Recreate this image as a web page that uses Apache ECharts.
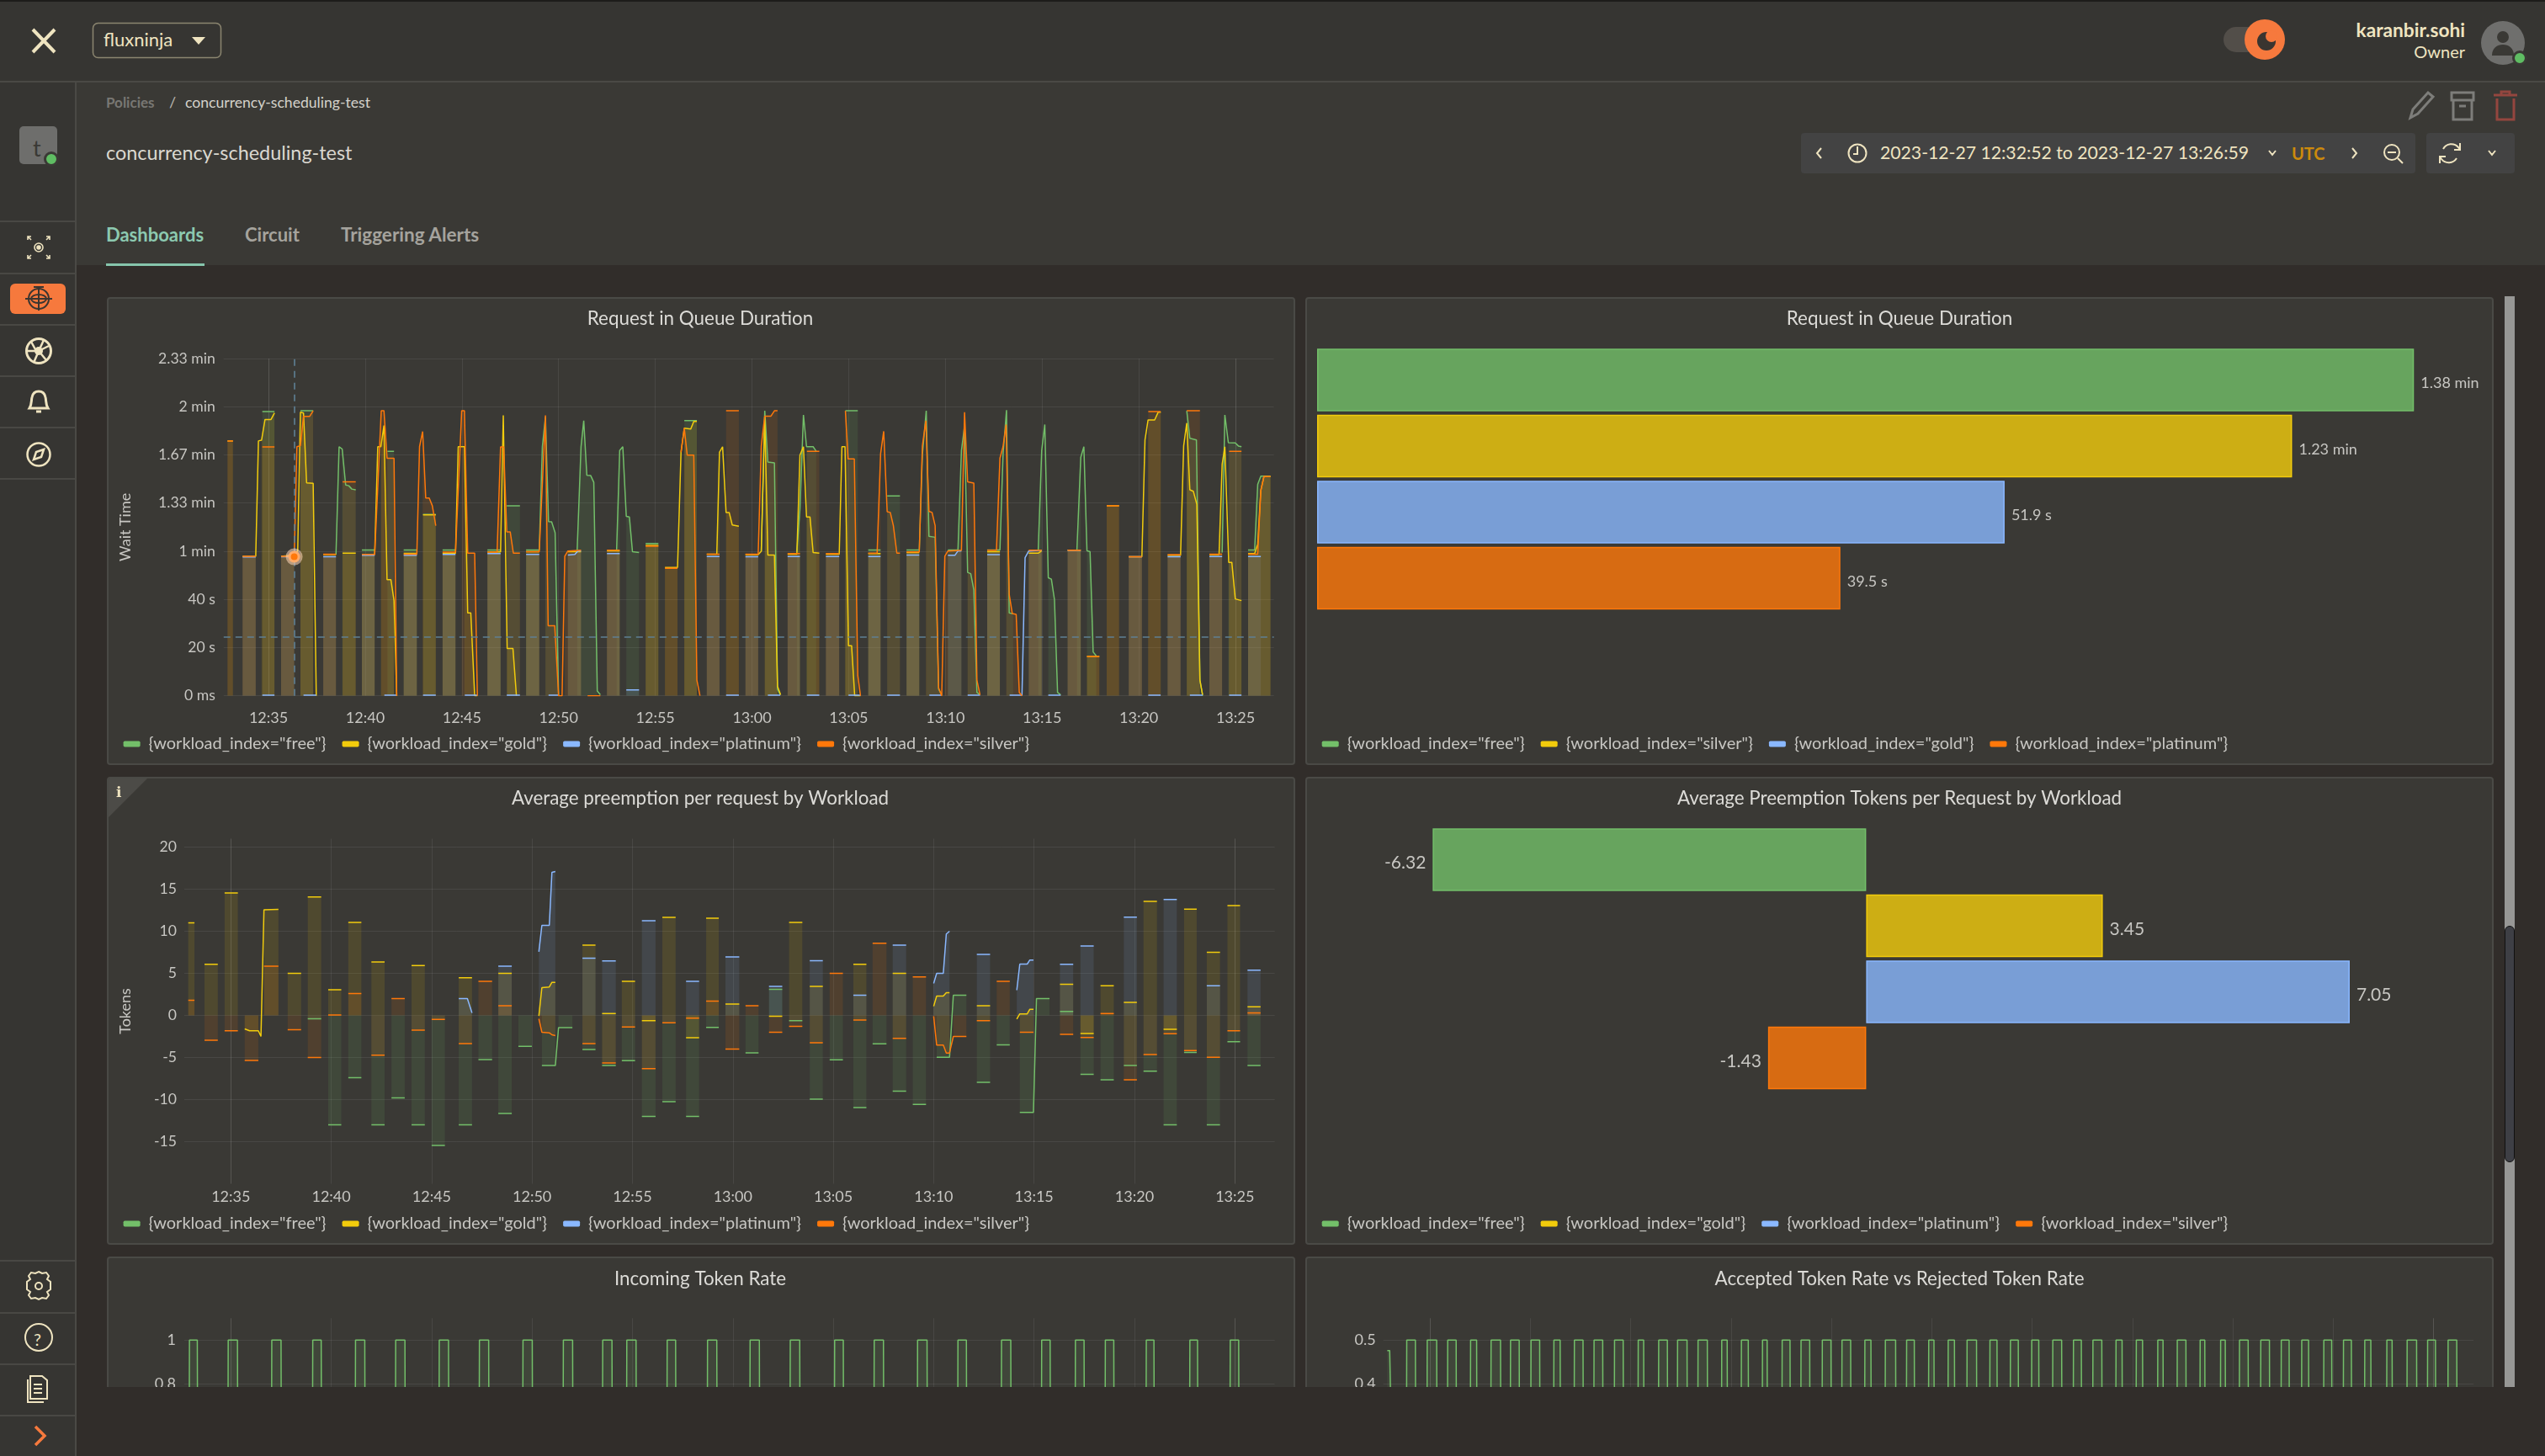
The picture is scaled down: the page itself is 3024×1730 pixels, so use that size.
<!DOCTYPE html>
<html><head><meta charset="utf-8">
<script src="https://cdn.jsdelivr.net/npm/echarts@6/dist/echarts.min.js"></script>
<style>
html,body{margin:0;padding:0;width:3024px;height:1730px;overflow:hidden;background:#312d2a;font-family:Lato,"Open Sans",sans-serif}
.a{position:absolute}
.t{position:absolute;white-space:nowrap;line-height:1}
.panel{position:absolute;background:#3a3935;border:2px solid #4a4a46;border-radius:4px;box-sizing:border-box;overflow:hidden}
.chart{position:absolute;left:-2px;top:-2px}
svg{position:absolute;overflow:visible}
.ln{position:absolute;left:0;width:89px;height:2px;background:#494844}
</style></head><body>
<div class="a" style="left:0;top:0;width:3024px;height:98px;background:#363532"></div>
<div class="a" style="left:0;top:0;width:3024px;height:2px;background:#1d1c1a"></div>
<div class="a" style="left:0;top:96px;width:3024px;height:2px;background:#4a4945"></div>
<div class="a" style="left:91px;top:98px;width:2933px;height:217px;background:#3a3935"></div>

<div class="panel" style="left:127px;top:353px;width:1412px;height:556px"><div class="chart" id="c1" style="width:1412px;height:556px"></div></div>
<div class="panel" style="left:1551px;top:353px;width:1412px;height:556px"><div class="chart" id="c2" style="width:1412px;height:556px"></div></div>
<div class="panel" style="left:127px;top:923px;width:1412px;height:556px"><div class="chart" id="c3" style="width:1412px;height:556px"></div>
  <div class="a" style="left:-2px;top:-2px;width:0;height:0;border-top:50px solid #4c4b47;border-right:50px solid transparent"></div>
  <div class="t" style="left:9px;top:6px;font:700 17px 'DejaVu Serif',serif;color:#efe4c0">i</div></div>
<div class="panel" style="left:1551px;top:923px;width:1412px;height:556px"><div class="chart" id="c4" style="width:1412px;height:556px"></div></div>
<div class="panel" style="left:127px;top:1493px;width:1412px;height:420px"><div class="chart" id="c5" style="width:1412px;height:420px"></div></div>
<div class="panel" style="left:1551px;top:1493px;width:1412px;height:420px"><div class="chart" id="c6" style="width:1412px;height:420px"></div></div>

<div class="a" style="left:91px;top:1648px;width:2933px;height:82px;background:#312d2a"></div>
<div class="a" style="left:2976px;top:352px;width:12px;height:1296px;background:#979795"></div>
<div class="a" style="left:2976px;top:1100px;width:12px;height:281px;background:#3e3f45;border:1px solid #111;box-sizing:border-box;border-radius:6px"></div>

<!-- sidebar -->
<div class="a" style="left:0;top:98px;width:89px;height:1632px;background:#363532"></div>
<div class="a" style="left:89px;top:98px;width:2px;height:1632px;background:#4a4945"></div>
<div class="ln" style="top:262px"></div><div class="ln" style="top:324px"></div><div class="ln" style="top:385px"></div><div class="ln" style="top:446px"></div><div class="ln" style="top:507px"></div><div class="ln" style="top:568px"></div>
<div class="ln" style="top:1497px"></div><div class="ln" style="top:1559px"></div><div class="ln" style="top:1620px"></div><div class="ln" style="top:1681px"></div>
<div class="a" style="left:23px;top:150px;width:45px;height:45px;background:#6e6e6c;border-radius:5px"></div>
<div class="t" style="left:39px;top:162px;font-size:27px;color:#3a3935">t</div>
<div class="a" style="left:52px;top:180px;width:12px;height:12px;background:#5fbd63;border:3px solid #3a3935;border-radius:50%"></div>
<svg style="left:0;top:0" width="91" height="1730" fill="none" stroke="#efe4c0" stroke-width="2.5">
 <g stroke-width="1.6"><circle cx="46" cy="294" r="5"/><circle cx="46" cy="294" r="2" fill="#efe4c0"/><path d="M37 285l-4-4M33 285v-4h4M55 285l4-4M59 285v-4h-4M37 303l-4 4M33 303v4h4M55 303l4 4M59 303v4h-4"/></g>
 <rect x="12" y="337" width="66" height="36" rx="6" fill="#f6793d" stroke="none"/>
 <g stroke="#3a3530" stroke-width="2"><circle cx="46" cy="355" r="12"/><ellipse cx="46" cy="355" rx="9" ry="5"/><path d="M30 355h32M46 341v28M40 341h12"/></g>
 <circle cx="46" cy="417" r="14.5" stroke-width="3"/><circle cx="46" cy="417" r="5" fill="#efe4c0" stroke="none"/><path d="M37 406l6 11M58 411l-12 6M55 428l-9-11M40 431l6-14M32 417h14M52 404l-6 13"/>
 <path d="M35 485c3-5 2-9 3-13 1-5 4-7 8-7s7 2 8 7c1 4 0 8 3 13zM43 489h6" stroke-width="3"/>
 <circle cx="46" cy="540" r="13.5"/><path d="M52 534l-3 9-9 3 3-9z"/>
 <path d="M46 1511l4 2 5-1 3 4-2 4 4 3v9l-4 3 2 4-3 4-5-1-4 2-4-2-5 1-3-4 2-4-4-3v-9l4-3-2-4 3-4 5 1z" stroke-width="2"/><circle cx="46" cy="1528" r="4" stroke-width="2"/>
 <circle cx="46" cy="1589" r="16" stroke-width="2"/>
 <path d="M36 1635h14l6 5v22H36zM33 1639v27h19M40 1645h10M40 1650h10M40 1655h10" stroke-width="2"/>
 <path d="M42 1695l11 11-11 11" stroke="#f6793d" stroke-width="3.5"/>
</svg>
<div class="t" style="left:40px;top:1581px;font-size:20px;color:#efe4c0">?</div>

<!-- top bar -->
<svg style="left:0;top:0" width="300" height="98" fill="none" stroke="#efe4c0" stroke-width="4"><path d="M39 35l26 27M65 35L39 62"/><path d="M228 44h16l-8 9z" fill="#efe4c0" stroke="none"/><rect x="110.5" y="27.5" width="152" height="41" rx="6" stroke="#8c8670" stroke-width="1.5"/></svg>
<div class="t" style="left:123px;top:36px;font-size:22px;color:#efe4c0">fluxninja</div>
<div class="a" style="left:2642px;top:32px;width:44px;height:30px;background:#524e49;border-radius:15px"></div>
<div class="a" style="left:2667px;top:23px;width:48px;height:48px;background:#f6793d;border-radius:50%"></div>
<svg style="left:2667px;top:23px" width="48" height="48"><circle cx="26" cy="26" r="11" fill="#3a3530"/><circle cx="32" cy="20" r="7" fill="#f6793d"/></svg>
<div class="t" style="right:95px;top:25px;font-size:22.7px;font-weight:700;color:#efe4c0">karanbir.sohi</div>
<div class="t" style="right:95px;top:51px;font-size:20px;color:#efe4c0">Owner</div>
<div class="a" style="left:2948px;top:25px;width:52px;height:52px;background:#6f6f6d;border-radius:50%"></div>
<svg style="left:2948px;top:25px" width="52" height="52" fill="#3a3935"><circle cx="26" cy="19" r="7"/><path d="M13 41c0-9 6-13 13-13s13 4 13 13z"/></svg>
<div class="a" style="left:2985px;top:60px;width:12px;height:12px;background:#5fbd63;border:3px solid #3a3935;border-radius:50%"></div>

<!-- page head -->
<div class="t" style="left:126px;top:113px;font-size:17px;font-weight:700;color:#787773">Policies</div>
<div class="t" style="left:201px;top:112px;font-size:18px;color:#b9b7b0">/</div>
<div class="t" style="left:220px;top:113px;font-size:17.6px;color:#d4d2ca">concurrency-scheduling-test</div>
<div class="t" style="left:126px;top:170px;font-size:23.4px;color:#dad8d0">concurrency-scheduling-test</div>
<div class="t" style="left:126px;top:268px;font-size:22px;font-weight:700;color:#8cc9b0">Dashboards</div>
<div class="t" style="left:291px;top:268px;font-size:22px;font-weight:700;color:#a5a39d">Circuit</div>
<div class="t" style="left:405px;top:268px;font-size:22.5px;font-weight:700;color:#a5a39d">Triggering Alerts</div>
<div class="a" style="left:126px;top:313px;width:117px;height:3px;background:#86c5ac"></div>
<svg style="left:2860px;top:105px" width="130" height="40" fill="none" stroke-width="3">
 <path d="M4 35l3-10 18-20 6 5-18 20z" stroke="#7d7d7a"/>
 <path d="M53 5h26v9H53zM55 14v23h22V14M62 21h8" stroke="#7d7d7a"/>
 <path d="M103 8h28M112 8V4h10v4M107 12v25h20V12" stroke="#94463f"/>
</svg>
<div class="a" style="left:2140px;top:158px;width:730px;height:48px;background:#434343;border-radius:4px"></div>
<div class="a" style="left:2883px;top:158px;width:105px;height:48px;background:#434343;border-radius:4px"></div>
<svg style="left:2140px;top:158px" width="850" height="48" fill="none" stroke="#efe4c0" stroke-width="2">
 <path d="M24 18l-5 6 5 6M655 18l5 6-5 6"/><circle cx="67" cy="24" r="10.5"/><path d="M67 16v9h-5"/>
 <path d="M556 21l4 5 4-5M817 21l4 5 4-5" stroke-width="2"/>
 <circle cx="702" cy="23" r="9"/><path d="M697 23h10M709 30l6 6"/>
 <path d="M763 19a11 11 0 0 1 18-2l2 3M779 30a11 11 0 0 1-18 1l-2-3M783 12v8h-7M759 36v-8h7"/>
</svg>
<div class="t" style="left:2234px;top:171px;font-size:21.2px;color:#efe4c0">2023-12-27 12:32:52 to 2023-12-27 13:26:59</div>
<div class="t" style="left:2723px;top:172px;font-size:20px;font-weight:700;color:#cc8a0c">UTC</div>

<script>
/* ---------- data: [minute after 12:30 UTC, value] ---------- */
const workloads = ['free','gold','platinum','silver'];
const legendNames = w => `{workload_index="${w}"}`;
const colorFree='#73bf69', colorGold='#f2cc0c', colorPlatinum='#8ab8ff', colorSilver='#ff780a';
const timeTickMinutes = [5,10,15,20,25,30,35,40,45,50,55];

const queueTickLabels = ['0 ms','20 s','40 s','1 min','1.33 min','1.67 min','2 min','2.33 min'];
const queueWindows = [[2.88,3.16],[3.66,4.34],[4.68,5.31],[5.65,6.33],[6.65,7.31],[7.83,8.49],[8.83,9.51],[9.83,10.49],[10.83,11.49],[11.99,12.67],[12.99,13.65],[14.0,14.67],[14.99,15.66],[16.32,17.0],[17.32,18.0],[18.32,19.0],[19.32,20.0],[20.32,22.0],[22.5,23.16],[23.5,24.16],[24.5,25.16],[25.5,26.15],[26.5,27.15],[27.64,28.32],[28.66,29.32],[29.66,30.32],[30.64,31.36],[31.84,32.48],[32.84,33.48],[33.82,34.51],[34.83,35.47],[36.01,36.65],[36.99,37.65],[37.99,38.65],[38.99,39.81],[40.01,40.83],[41.15,41.79],[42.16,42.82],[43.16,43.96],[44.31,44.98],[45.32,45.96],[46.32,47.0],[47.32,47.96],[48.34,48.98],[49.48,50.16],[50.49,51.13],[51.49,52.16],[52.48,53.16],[53.65,54.31],[54.67,55.31],[55.65,56.81]];
const queueFree = [[4.68,5.31,118],[6.65,7.31,118.3],
 [[8.49,58.6],[8.65,103.4],[8.81,102.4],[8.99,87.5],[9.15,87.2],[9.31,85.8],[9.51,85.5]],
 [9.83,10.49,60.5],[11.15,11.49,101.5],[11.99,12.67,60.5],[12.99,13.65,75.3],[14.0,14.67,60.5],[16.32,17.0,60.5],[17.32,18.0,78.9],
 [[18.32,60.5],[19.0,60.5],[19.16,103.4],[19.32,115.8],[19.48,72.3],[19.64,72.2],[19.82,67.7],[20.0,0]],
 [[20.96,60.4],[21.16,103.4],[21.30,114.2],[21.46,91.5],[21.66,91.4],[21.82,88.6],[22.0,2],[22.16,0.4]],
 [[23.0,60.4],[23.16,101.8],[23.32,103.4],[23.5,74.5],[23.66,74.2],[23.82,59.8],[24.16,59.5]],
 [24.5,25.16,63.2],[26.5,27.15,114.2],
 [[30.48,60],[30.66,118.3],[30.82,97],[31.16,96.7],[31.32,2.7],[31.46,0.4]],
 [[32.32,59.8],[32.48,77.6],[32.66,116.6],[32.82,103.4],[33.16,103.4],[33.32,101.5]],
 [34.83,35.47,118.3],[36.01,36.65,60.5],[36.99,37.65,83],
 [[37.99,60.5],[38.65,60.5],[38.81,100],[39.01,118.3],[39.15,66.2],[39.47,65.8],[39.65,2.7],[39.81,0.4]],
 [[40.13,60.5],[40.65,60.5],[40.83,101.8],[40.99,111.9],[41.15,51.2],[41.31,50.7],[41.47,44],[41.63,1.4],[41.79,0.4]],
 [[42.16,60.5],[42.82,60.5],[42.98,100],[43.16,118.6],[43.3,34.4],[43.5,34]],
 [[44.8,60.4],[44.98,101.8],[45.14,112.6],[45.32,49],[45.48,48.4],[45.64,39.9],[45.8,1.4],[45.96,0.4]],
 [[46.8,60.4],[47.0,99],[47.16,103.4],[47.32,60.2],[47.48,59.8],[47.64,18.2],[47.8,16.6]],
 [[52.48,118.3],[52.64,106.9],[52.98,106.2],[53.16,6.5],[53.3,0]],
 [[54.31,59.5],[54.45,116.6],[54.63,105.1],[54.99,105],[55.15,103.7],[55.31,103.4]],
 [[55.65,60.5],[55.99,60.5],[56.15,87.8],[56.31,91.2],[56.81,91.2]]];
const queueGold = [[2.88,3.16,105.8],
 [[3.66,57.9],[4.34,57.9],[4.48,105.8],[4.64,106.1],[4.82,114.7],[5.13,114.7],[5.31,117.4]],
 [[5.65,57.9],[6.33,58.4],[6.51,60.2],[6.65,117.7],[6.81,117.4],[6.97,88.4],[7.31,88.2],[7.47,0]],
 [7.83,8.49,58.7],[8.83,9.51,59.2],
 [[9.83,58.7],[10.49,58.7],[10.65,103.4],[10.81,103.4],[10.97,112.2],[11.13,48.2],[11.33,48.2],[11.49,39.5],[11.63,0]],
 [11.99,12.67,59.1],[12.99,13.65,75.1],
 [[14.0,59.2],[14.67,59.2],[14.81,103.4],[15.13,103.4],[15.30,34.4],[15.46,34.4],[15.66,0],[15.80,0]],
 [[16.32,59.7],[17.0,59.7],[17.14,116.4],[17.34,19.6],[17.64,19.6],[17.82,0]],
 [18.32,19.0,59.8],[20.48,21.16,59.8],[22.5,23.16,60.2],[24.5,25.16,62.4],
 [[25.5,53.3],[26.15,53.3],[26.33,101.1],[26.5,111.1],[26.83,110.7],[26.99,113.9],[27.15,113.9]],
 [[27.66,58.8],[28.18,58.8],[28.32,101.1],[28.48,103.4],[28.66,76.1],[28.82,76.1],[28.98,70.9],[29.32,70.4]],
 [[29.66,58.6],[30.32,58.6],[30.48,60],[30.66,115.8],[30.82,58.4],[31.16,58.4],[31.32,3.9],[31.48,0.4]],
 [[31.84,58.8],[32.32,58.8],[32.48,99.9],[32.66,103.4],[32.82,74.2],[33.0,74.2],[33.16,59.5],[33.48,59.2]],
 [[33.82,58.8],[34.51,58.8],[34.65,103.4],[34.81,103.4],[34.99,20.8],[35.15,20.8],[35.31,0],[35.61,0]],
 [36.01,36.65,59.0],[37.99,38.65,59.5],[42.16,42.82,59.8],
 [[44.31,59.2],[44.8,59.2],[44.98,60.2]],
 [46.32,47,60.4],[47.32,47.96,16.3],[48.34,48.98,78.9],
 [[49.48,57.7],[50.16,57.7],[50.32,106.2],[50.48,114.5],[50.82,114.5],[51.0,117.7],[51.14,117.7]],
 [[51.49,58.3],[52.16,58.3],[52.32,103.7],[52.48,113.2],[52.64,85.5],[52.82,84.9],[53.0,79.5],[53.16,6.5],[53.3,0.4]],
 [[53.65,58.6],[54.15,58.6],[54.31,96.1],[54.45,103.4],[54.65,55.4],[54.81,55.4],[54.99,40.2],[55.31,39.5]],
 [[55.65,59],[55.99,59],[56.15,63],[56.31,85.3],[56.47,91],[56.81,91]]];
const queuePlatinum = [[3.66,4.34,57.6],[4.68,5.31,.25],[5.65,6.33,57.7],[6.81,7.47,.25],[7.83,8.49,57.7],[9.83,10.49,58.3],[10.99,11.63,.25],[11.99,12.67,58.3],[12.99,13.65,.25],[14,14.67,58.7],[15.15,15.8,.25],[16.32,17,59],[17.32,18,.25],[18.32,19,58.7],[19.48,20,.25],
 [[20.48,58.4],[20.84,58.7],[21.0,60.1],[21.16,60.2]],
 [22.5,23.16,59],[23.5,24.16,2.4],[27.66,28.32,57.8],[28.66,29.32,.25],[29.66,30.32,57.7],[30.82,31.46,.25],[31.84,32.48,57.8],[32.84,33.48,.25],[33.82,34.51,57.8],[34.99,35.61,.25],[36.01,36.65,57.8],[36.99,37.65,.25],[37.99,38.65,58.4],[39.17,39.81,.25],
 [[40.13,58.3],[40.49,58.3],[40.65,60.1],[40.83,60.2]],
 [41.15,41.79,.25],[42.16,42.82,58.6],
 [[43.32,.25],[43.96,.25],[44.12,57.3],[44.31,60.1],[44.98,60.4]],
 [45.32,45.96,.25],[46.32,47,60.4],[49.48,50.16,57.7],[50.49,51.13,.25],[51.49,52.16,57.7],[52.64,53.3,.25],[53.65,54.31,57.8],[54.67,55.31,.25],[55.65,56.31,57.8]];
const queueSilver = [[2.88,3.16,105.8],[3.66,4.34,57.9],[4.68,5.31,103.3],
 [[5.65,57.9],[6.33,57.9],[6.47,103.4],[6.65,103.8],[6.81,116],[7.13,116],[7.31,118.3]],
 [7.83,8.49,58.8],[8.83,9.51,88.8],
 [[9.83,58.7],[10.49,58.7],[10.83,118.3],[10.97,118.3],[11.13,98.6],[11.49,98.6],[11.63,0]],
 [[11.99,58.8],[12.67,58.8],[12.81,103.4],[12.97,109.7],[13.13,82.1],[13.31,82.1],[13.47,78.9],[13.65,70.6]],
 [[14.0,59.6],[14.67,59.6],[14.99,118.3],[15.13,118.3],[15.30,59.2],[15.66,59.2],[15.80,0]],
 [[16.32,59.6],[16.82,59.6],[17.0,103.3],[17.16,103.3],[17.32,68],[17.5,68],[17.66,59.2],[18.0,59.2]],
 [[18.32,59.8],[19.0,59.8],[19.32,116.4],[19.46,29.1],[19.80,29.1],[20.0,0],[20.18,0],[20.32,57.9],[20.48,60.1],[21.16,60.4]],
 [21.5,22.16,0],[22.5,23.16,60.4],[24.5,25.16,62.1],[25.5,26.15,52.9],
 [[26.33,101.1],[26.5,111.1],[26.65,99.9],[26.99,99.9],[27.15,6.5],[27.31,0]],
 [27.66,28.32,58.8],[28.66,29.32,118.3],
 [[29.66,58.8],[30.32,58.8],[30.48,103.7],[30.66,116.1],[30.98,116.1],[31.16,118.3],[31.32,118.3]],
 [31.84,32.48,59],[32.84,33.48,101.5],[33.82,34.51,59],
 [[34.83,118.3],[34.97,98.3],[35.29,98.3],[35.47,8.4],[35.61,0]],
 [[36.01,59.2],[36.47,59.2],[36.65,100.5],[36.81,109.8],[36.99,76.4],[37.15,76.1],[37.31,70.6],[37.49,59.2],[37.65,59.2]],
 [[37.99,59.7],[38.65,59.7],[38.81,103.7],[38.99,114.2],[39.15,76.6],[39.31,76.1],[39.47,70.6],[39.65,3.3],[39.81,0],[39.97,57.9],[40.13,60.1],[40.83,60.4],[40.99,117.7],[41.15,88.8],[41.47,88.3],[41.63,6.5],[41.79,0.4]],
 [[42.16,60.4],[42.64,60.4],[42.82,98.6],[42.98,103.4],[43.14,112.6],[43.3,42],[43.46,34.1],[43.66,33.8],[43.82,1.4],[43.96,0]],
 [44.31,44.98,60.4],[46.32,47.0,60.4],[47.32,47.96,16.3],[48.34,48.98,78.9],[49.48,50.16,57.7],[50.49,51.13,118],[51.49,52.16,58.6],[52.48,53.16,118.3],[53.65,54.31,58.8],[54.67,55.31,101.5],
 [[55.65,58.8],[56.15,58.8],[56.31,85.3],[56.47,91],[56.81,91]]];
const queueCursor = {minute:6.33, value:57.7, level:24.4};

const barOrderQueue = ['free','silver','gold','platinum'];
const barValuesQueue = [82.8,73.6,51.9,39.5];
const barLabelsQueue = ['1.38 min','1.23 min','51.9 s','39.5 s'];
const barOrderTokens = ['free','gold','platinum','silver'];
const barValuesTokens = [-6.32,3.45,7.05,-1.43];

const tokenWindows = [[2.88,3.19],[3.69,4.35],[4.69,5.35],[5.69,6.37],[6.65,7.37],[7.83,8.50],[8.83,9.50],[9.85,10.50],[10.85,11.50],[12.0,12.66],[13.0,13.66],[14.0,14.66],[15.0,15.66],[16.35,17.01],[17.33,18.01],[18.32,18.99],[19.32,19.99],[20.34,21.16],[21.32,22.01],[22.51,23.16],[23.49,24.17],[24.47,25.13],[25.47,26.15],[26.49,27.15],[27.67,28.32],[28.67,29.30],[29.63,30.32],[30.63,31.28],[31.80,32.46],[32.80,33.46],[33.83,34.48],[34.82,35.48],[36.0,36.65],[36.96,37.65],[37.96,38.63],[38.96,39.62],[40.0,40.79],[40.98,41.63],[42.15,42.81],[43.14,43.79],[44.14,44.97],[45.12,45.77],[46.29,46.95],[47.31,47.97],[48.31,48.97],[49.47,50.12],[50.45,51.12],[51.45,52.11],[52.47,53.10],[53.60,54.26],[54.63,55.26],[55.63,56.28]];
const tokenFree = [[8.83,9.50,-.4],[9.85,10.50,-13],[10.85,11.50,-7.4],[12.0,12.66,-13],[13.0,13.66,-9.8],[14.0,14.66,-13],[15.0,15.66,-15.45],[16.35,17.01,-13],[17.33,18.01,-5.24],[18.32,18.99,-11.64],[19.32,19.99,-3.67],
 [[20.49,-5.96],[21.16,-5.96],[21.32,-1.45],[22.01,-1.45]],
 [22.51,23.16,-4.04],[23.49,24.17,-5.96],[24.47,25.13,-5.38],[25.47,26.15,-12],[26.49,27.15,-10.25],[27.67,28.32,-12],[28.67,29.30,-1.42],[30.63,31.28,-4.44],[31.80,32.46,3.1],[32.80,33.46,-.62],[33.83,34.48,-9.96],[34.82,35.48,-5.27],[36.0,36.65,-10.95],[36.96,37.65,-3.38],[37.96,38.63,-9],[38.96,39.62,-10.58],
 [[40.15,-4.98],[40.79,-4.98],[40.98,2.4],[41.63,2.4]],
 [42.15,42.81,-7.96],[43.14,43.79,-3.49],
 [[44.29,-11.53],[44.97,-11.53],[45.12,2],[45.77,2]],
 [46.29,46.95,.47],[47.31,47.97,-7],[48.31,48.97,-7.64],[49.47,50.12,-5.96],[50.45,51.12,-6.62],[51.45,52.11,-13],[52.47,53.10,-4.4],[53.60,54.26,-13],[54.63,55.26,-3.13],[55.63,56.28,-5.96]];
const tokenGold = [[2.88,3.19,11],[3.69,4.35,6.07],[4.69,5.35,14.55],
 [[5.69,-1.6],[5.93,-1.82],[6.37,-1.82],[6.50,-2.5],[6.65,12.55],[7.37,12.6]],
 [7.83,8.50,5],[8.83,9.50,14.07],[9.85,10.50,3.05],[10.85,11.50,11.05],[12.0,12.66,6.36],[14.0,14.66,5.93],[16.35,17.01,4.47],[18.32,18.99,5],
 [[20.34,-.07],[20.49,3.3],[20.86,3.38],[20.99,3.93],[21.16,3.93]],
 [22.51,23.16,8.36],[23.49,24.17,.22],[24.47,25.13,4.04],[25.47,26.15,-.62],[26.49,27.15,11.64],[27.67,28.32,-2.65],[28.67,29.30,11.56],[29.63,30.32,1.35],[31.80,32.46,-.1],[32.80,33.46,11.05],[33.83,34.48,3.45],[36.0,36.65,6.07],[37.96,38.63,5],
 [[40.0,1.09],[40.15,2.3],[40.48,2.3],[40.63,2.7],[40.79,2.7]],
 [42.15,42.81,1.16],
 [[44.14,-.44],[44.29,.18],[44.66,.18],[44.79,.73],[44.97,.73]],
 [46.29,46.95,3.7],[47.31,47.97,-2.15],[48.31,48.97,3.53],[49.47,50.12,1.56],[50.45,51.12,13.56],[51.45,52.11,-1.64],[52.47,53.10,12.62],[53.60,54.26,7.49],[54.63,55.26,13.05],[55.63,56.28,1.02]];
const tokenPlatinum = [
 [[16.35,2],[16.78,2],[17.01,.3]],
 [18.32,18.99,5.85],
 [[20.34,7.56],[20.49,10.7],[20.86,10.7],[20.99,17],[21.16,17.1]],
 [22.51,23.16,6.8],[23.49,24.17,6.47],[25.47,26.15,11.24],[27.67,28.32,4.04],[29.63,30.32,6.95],[31.80,32.46,3.45],[33.83,34.48,6.5],[36.0,36.65,2.4],[37.96,38.63,8.36],
 [[40.0,3.8],[40.15,5],[40.48,5],[40.63,9.67],[40.79,10]],
 [42.15,42.81,7.24],
 [[44.14,3],[44.29,6.1],[44.66,6.1],[44.79,6.58],[44.97,6.58]],
 [46.29,46.95,6.07],[47.31,47.97,8.25],[49.47,50.12,11.67],[51.45,52.11,13.78],[53.60,54.26,3.53],[55.63,56.28,5.38]];
const tokenSilver = [[2.88,3.19,1.8],[3.69,4.35,-2.95],[4.69,5.35,-1.82],[5.69,6.37,-5.35],[6.65,7.37,5.85],[7.83,8.50,-1.7],[8.83,9.50,-5],[9.85,10.50,.05],[10.85,11.50,2.6],[12.0,12.66,-4.73],[13.0,13.66,2],[14.0,14.66,-1.75],[15.0,15.66,-.47],[16.35,17.01,-3.35],[17.33,18.01,4.04],[18.32,18.99,1.16],
 [[20.34,-.4],[20.49,-2],[20.86,-2.07],[20.99,-2.3],[21.16,-2.4]],
 [22.51,23.16,-3.35],[23.49,24.17,-5.64],[24.47,25.13,-1.38],[25.47,26.15,-6.33],[26.49,27.15,-.87],[27.67,28.32,-.33],[28.67,29.30,1.7],[29.63,30.32,-4],[30.63,31.28,1.16],[31.80,32.46,-2],[32.80,33.46,-1.31],[33.83,34.48,-3.24],[34.82,35.48,5],[36.0,36.65,-.55],[36.96,37.65,8.58],[37.96,38.63,-2.73],[38.96,39.62,4.58],
 [[40.0,-.1],[40.15,-3.53],[40.48,-3.53],[40.63,-4.47],[40.79,-4.47],[40.98,-2.5],[41.63,-2.5]],
 [42.15,42.81,-.62],[43.14,43.79,4.04],[44.29,44.97,-2],[46.29,46.95,-2.25],[47.31,47.97,-2.62],[48.31,48.97,.22],[49.47,50.12,-7.64],[50.45,51.12,-4.65],[51.45,52.11,-2.18],[52.47,53.10,-4.18],[53.60,54.26,-4.98],[54.63,55.26,-1.82],[55.63,56.28,.29]];

const incomingPulses = [[2.91,3.36],[4.84,5.36],[7.01,7.53],[9.05,9.53],[11.18,11.70],[13.18,13.70],[15.35,15.87],[17.35,17.87],[19.52,20.04],[21.53,22.05],[23.49,24.01],[24.69,25.21],[26.70,27.18],[28.71,29.23],[30.83,31.35],[32.83,33.36],[35.04,35.53],[37.01,37.53],[39.17,39.70],[41.18,41.66],[43.35,43.87],[45.35,45.83],[47.03,47.52],[48.52,49.0],[50.56,51.0],[52.73,53.17],[54.74,55.22]];
const acceptedPulses = [[3.82,4.31],[4.84,5.37],[5.86,6.34],[7.0,7.36],[8.02,8.55],[8.99,9.48],[10.01,10.5],[11.15,11.52],[12.17,12.66],[13.15,13.64],[14.17,14.66],[15.35,15.68],[16.37,16.86],[17.31,17.84],[18.33,18.85],[19.51,19.84],[20.49,20.89],[21.54,21.83],[22.52,22.97],[23.46,23.95],[24.52,25.01],[25.5,25.99],[26.64,27.0],[27.66,28.23],[28.72,29.16],[29.82,30.14],[30.79,31.16],[31.73,32.26],[32.87,33.28],[33.89,34.34],[34.95,35.36],[36.0,36.5],[37.03,37.48],[38.0,38.5],[39.15,39.51],[40.16,40.53],[41.23,41.55],[42.2,42.69],[43.34,43.63],[44.36,44.65],[45.3,45.79],[46.36,46.85],[47.38,47.83],[48.4,48.8],[49.5,49.95],[50.48,50.93],[51.54,51.9],[52.64,52.96],[53.65,54.18],[54.67,55.12],[55.69,56.18]];
const acceptedFirst = [[2.88,.476],[3.0,.476],[3.21,0]];

/* ---------- helpers ---------- */
const FONT='Lato, "Open Sans", sans-serif', TXT='#c7c6c2', TITLE='#dcdbd7', GRID='rgba(225,225,220,0.09)';
const BASE=Date.UTC(2023,11,27,12,30), T=m=>BASE+m*60000;
const AX_MIN=T(2.6833), AX_MAX=T(56.983);
const timeTicks=timeTickMinutes.map(T);
const points=runs=>runs.map(r=>typeof r[0]==='number'?[[r[0],r[2]],[r[1],r[2]]]:r);
function lineData(runs){const o=[];points(runs).forEach(r=>{r.forEach(p=>o.push([T(p[0]),p[1]]));o.push([T(r[r.length-1][0]+.001),null]);});return o;}
function areaData(runs,wins){const o=[];points(runs).forEach(r=>{let last=-1;r.forEach(p=>{const i=wins.findIndex(w=>p[0]>=w[0]-.04&&p[0]<=w[1]+.04);
  if(i<0||(i!==last&&last>=0)){if(last>=0)o.push([T(p[0]-.001),null]);last=-1;}
  if(i>=0){o.push([T(p[0]),p[1]]);last=i;}});o.push([T(r[r.length-1][0]+.001),null]);});return o;}
function pulseData(pulses,level,lead){const o=(lead||[]).map(p=>[T(p[0]),p[1]]);pulses.forEach(p=>{o.push([T(p[0]),0],[T(p[0]+.03),level],[T(p[1]-.03),level],[T(p[1]),0]);});return o;}
const timeAxis=margin=>({type:'time',min:AX_MIN,max:AX_MAX,axisLine:{show:false},axisTick:{show:false,customValues:timeTicks},
  axisLabel:{customValues:timeTicks,formatter:'{HH}:{mm}',color:TXT,fontSize:18,fontFamily:FONT,margin,hideOverlap:false},
  splitLine:{show:true,lineStyle:{color:GRID,width:1}}});
const title=(text,cx,cy)=>({text,left:cx,top:cy-11,padding:0,textAlign:'center',textStyle:{color:TITLE,fontSize:22.4,fontWeight:400,fontFamily:FONT}});
const legend=(names,colors,left)=>({left,top:521,padding:0,orient:'horizontal',itemWidth:20,itemHeight:7,itemGap:19,icon:'roundRect',selectedMode:false,
  data:names.map((n,i)=>({name:legendNames(n),itemStyle:{color:colors[i],borderWidth:0},lineStyle:{opacity:0}})),
  textStyle:{color:TXT,fontSize:20,fontFamily:FONT,padding:[0,0,0,5]}});
function lineSeries(name,color,runs,wins,extra){
  return [{name:name+' fill',type:'line',data:areaData(runs,wins),showSymbol:false,symbol:'none',silent:true,connectNulls:false,lineStyle:{width:0,opacity:0},areaStyle:{color,opacity:.115,origin:0},animation:false,z:2},
          Object.assign({name:legendNames(name),type:'line',data:lineData(runs),showSymbol:false,symbol:'none',silent:true,connectNulls:false,itemStyle:{color},lineStyle:{color,width:1.5},animation:false,z:3},extra||{})];
}
const lineColors=[colorFree,colorGold,colorPlatinum,colorSilver];
const barColors=[colorFree,colorGold,colorPlatinum,colorSilver];
const hexA=(h,a)=>`rgba(${parseInt(h.slice(1,3),16)},${parseInt(h.slice(3,5),16)},${parseInt(h.slice(5,7),16)},${a})`;
function barSeries(names,values,labels,size){
  return names.map((n,i)=>({name:legendNames(n),type:'bar',barWidth:74.5,barGap:'-100%',silent:true,animation:false,
    data:values.map((v,j)=>j===i?v:null),
    itemStyle:{color:hexA(barColors[i],.8),borderColor:barColors[i],borderWidth:1.5},
    label:{show:true,position:values[i]<0?'left':'right',distance:8,offset:[0,4],color:TXT,fontSize:size,fontFamily:FONT,formatter:labels?labels[i]:(p=>p.value.toFixed(2))}}));
}

/* panel origins */
const P1={x:127,y:353},P2={x:1551,y:353},P3={x:127,y:923},P4={x:1551,y:923},P5={x:127,y:1493},P6={x:1551,y:1493};
const make=(id,opt)=>{const c=echarts.init(document.getElementById(id),null,{renderer:'canvas'});c.setOption(Object.assign({useUTC:true,animation:false,backgroundColor:'transparent'},opt));};

/* Chart 1 */
make('c1',{title:title('Request in Queue Duration',832-P1.x,378.6-P1.y),
 legend:legend(workloads,lineColors,146.6-P1.x),
 grid:{left:265.8-P1.x,top:426-P1.y,width:1247.8,height:400.7},
 xAxis:timeAxis(17),
 yAxis:{type:'value',min:0,max:140,interval:20,name:'Wait Time',nameLocation:'middle',nameGap:108,nameRotate:90,nameTextStyle:{color:TXT,fontSize:18,fontFamily:FONT},
   axisLine:{show:false},axisTick:{show:false},axisLabel:{color:TXT,fontSize:17.6,fontFamily:FONT,margin:10,formatter:(v)=>queueTickLabels[Math.round(v/20)]},splitLine:{lineStyle:{color:GRID,width:1}}},
 series:[...lineSeries('free',colorFree,queueFree,queueWindows),...lineSeries('gold',colorGold,queueGold,queueWindows),...lineSeries('platinum',colorPlatinum,queuePlatinum,queueWindows),
  ...lineSeries('silver',colorSilver,queueSilver,queueWindows,{
    markLine:{silent:true,symbol:'none',animation:false,label:{show:false},lineStyle:{color:'#5f8095',type:[8,6],width:1.6},data:[{xAxis:T(queueCursor.minute)},{yAxis:queueCursor.level}]},
    markPoint:{silent:true,animation:false,symbol:'circle',symbolSize:14,label:{show:false},itemStyle:{color:'#ff780a',borderColor:'rgba(255,215,185,.55)',borderWidth:6},data:[{coord:[T(queueCursor.minute),queueCursor.value]}]}})]});

/* Chart 2 */
make('c2',{title:title('Request in Queue Duration',2257-P2.x,378.6-P2.y),
 legend:legend(barOrderQueue,barColors,1570.7-P2.x),
 grid:{left:1565-P2.x,top:412.2-P2.y,width:1337.9,height:314},
 xAxis:{type:'value',min:0,max:85,show:false},
 yAxis:{type:'category',inverse:true,data:barOrderQueue,show:false},
 series:barSeries(barOrderQueue,barValuesQueue,barLabelsQueue,18)});

/* Chart 3 */
make('c3',{title:title('Average preemption per request by Workload',832-P3.x,949-P3.y),
 legend:legend(workloads,lineColors,146.6-P3.x),
 grid:{left:219-P3.x,top:996.5-P3.y,width:1295.6,height:410},
 xAxis:timeAxis(7),
 yAxis:{type:'value',min:-20,max:21,interval:5,name:'Tokens',nameLocation:'middle',nameGap:61,nameRotate:90,nameTextStyle:{color:TXT,fontSize:18,fontFamily:FONT},
   axisLine:{show:false},axisTick:{show:false},axisLabel:{color:TXT,fontSize:17.6,fontFamily:FONT,margin:9,showMinLabel:false,showMaxLabel:false,formatter:v=>v===-20||v>20?'':String(v)},
   splitLine:{showMinLine:false,showMaxLine:false,lineStyle:{color:GRID,width:1}}},
 series:[...lineSeries('free',colorFree,tokenFree,tokenWindows),...lineSeries('gold',colorGold,tokenGold,tokenWindows),...lineSeries('platinum',colorPlatinum,tokenPlatinum,tokenWindows),...lineSeries('silver',colorSilver,tokenSilver,tokenWindows)]});

/* Chart 4 */
make('c4',{title:title('Average Preemption Tokens per Request by Workload',2257-P4.x,949-P4.y),
 legend:legend(barOrderTokens,barColors,1570.7-P4.x),
 grid:{left:1565.4-P4.x,top:982.2-P4.y,width:1304,height:314},
 xAxis:{type:'value',min:-8,max:8,show:false},
 yAxis:{type:'category',inverse:true,data:barOrderTokens,show:false},
 series:barSeries(barOrderTokens,barValuesTokens,null,21)});

/* Chart 5 */
const clippedY=(max,interval,fmt,margin)=>({type:'value',min:0,max,interval,axisLine:{show:false},axisTick:{show:false},
  axisLabel:{color:TXT,fontSize:18,fontFamily:FONT,margin,showMaxLabel:false,formatter:fmt},splitLine:{showMaxLine:false,lineStyle:{color:GRID,width:1}}});
const pulseSeries=(data)=>[{name:legendNames('free'),type:'line',data,showSymbol:false,symbol:'none',silent:true,itemStyle:{color:colorFree},lineStyle:{color:colorFree,width:1.5},areaStyle:{color:colorFree,opacity:.1},animation:false}];
make('c5',{title:title('Incoming Token Rate',832-P5.x,1520-P5.y),
 grid:{left:219-P5.x,top:1566.3-P5.y,width:1295.6,height:286},
 xAxis:timeAxis(10),yAxis:clippedY(1.1,.2,v=>v>1.05?'':String(+v.toFixed(1)),10),
 series:pulseSeries(pulseData(incomingPulses,1))});

/* Chart 6 */
make('c6',{title:title('Accepted Token Rate vs Rejected Token Rate',2257-P6.x,1520-P6.y),
 grid:{left:1643.7-P6.x,top:1566.3-P6.y,width:1295.3,height:286},
 xAxis:timeAxis(10),yAxis:clippedY(.55,.1,v=>v>.52?'':String(+v.toFixed(1)),9),
 series:pulseSeries(pulseData(acceptedPulses,.5,acceptedFirst))});
</script>
</body></html>
